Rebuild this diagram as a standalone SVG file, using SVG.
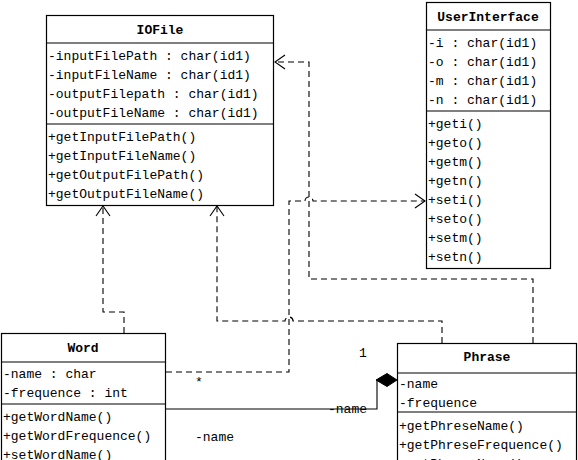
<svg xmlns="http://www.w3.org/2000/svg" width="578" height="460" viewBox="0 0 578 460">
<style>
.box{fill:#fff;stroke:#000;stroke-width:1.2}
.sep{stroke:#000;stroke-width:1.2}
.t{font-family:"Liberation Mono","DejaVu Sans Mono",monospace;font-size:13px;fill:#000}
.h{font-family:"Liberation Mono","DejaVu Sans Mono",monospace;font-size:13px;font-weight:bold;fill:#000;text-anchor:middle}
.dash{fill:none;stroke:#000;stroke-width:1.1;stroke-dasharray:6,4}
.solid{fill:none;stroke:#000;stroke-width:1.1}
.arr{fill:none;stroke:#000;stroke-width:1.1}
</style>
<rect width="578" height="460" fill="#fff"/>
<g id="connectors">
  <!-- Word -> IOFile -->
  <path class="dash" d="M124 333 V312 H103 V206"/>
  <path class="arr" d="M96 216 L103 206 L110 216"/>
  <!-- Phrase -> IOFile (bottom) -->
  <path class="dash" d="M442 343 V321 H293 A4 4 0 0 0 285 321 H217 V206"/>
  <path class="arr" d="M210 216 L217 206 L224 216"/>
  <!-- Phrase -> IOFile (right) -->
  <path class="dash" d="M533 343 V279 H309 V62 H275"/>
  <path class="arr" d="M285 55 L275 62 L285 69"/>
  <!-- Word -> UserInterface -->
  <path class="dash" d="M166 372 H289 V201 H305 A4 4 0 0 1 313 201 H425"/>
  <path class="arr" d="M415 194 L425 201 L415 208"/>
  <!-- Aggregation Word - Phrase -->
  <path class="solid" d="M165 409 H377 V380"/>
  <path d="M397 380 L387 373.5 L376 380 L387 386.5 Z" fill="#000" stroke="#000"/>
  <text class="t" x="363" y="357" text-anchor="middle">1</text>
  <text class="t" x="199" y="386" text-anchor="middle">*</text>
  <text class="t" x="328" y="413">-name</text>
  <text class="t" x="195" y="441">-name</text>
</g>
<g id="IOFile">
  <rect class="box" x="46.5" y="15.5" width="227" height="190"/>
  <line class="sep" x1="46.5" y1="43" x2="273.5" y2="43"/>
  <line class="sep" x1="46.5" y1="124" x2="273.5" y2="124"/>
  <text class="h" x="160" y="33.5">IOFile</text>
  <text class="t" x="48" y="60">-inputFilePath : char(id1)</text>
  <text class="t" x="48" y="79">-inputFileName : char(id1)</text>
  <text class="t" x="48" y="98">-outputFilepath : char(id1)</text>
  <text class="t" x="48" y="117">-outputFileName : char(id1)</text>
  <text class="t" x="48" y="141">+getInputFilePath()</text>
  <text class="t" x="48" y="160">+getInputFileName()</text>
  <text class="t" x="48" y="179">+getOutputFilePath()</text>
  <text class="t" x="48" y="198">+getOutputFileName()</text>
</g>
<g id="UserInterface">
  <rect class="box" x="426.5" y="2.5" width="124" height="266"/>
  <line class="sep" x1="426.5" y1="30" x2="550.5" y2="30"/>
  <line class="sep" x1="426.5" y1="111" x2="550.5" y2="111"/>
  <text class="h" x="488" y="20.5">UserInterface</text>
  <text class="t" x="428" y="46.5">-i : char(id1)</text>
  <text class="t" x="428" y="65.5">-o : char(id1)</text>
  <text class="t" x="428" y="84.5">-m : char(id1)</text>
  <text class="t" x="428" y="103.5">-n : char(id1)</text>
  <text class="t" x="428" y="127.5">+geti()</text>
  <text class="t" x="428" y="146.5">+geto()</text>
  <text class="t" x="428" y="165.5">+getm()</text>
  <text class="t" x="428" y="184.5">+getn()</text>
  <text class="t" x="428" y="203.5">+seti()</text>
  <text class="t" x="428" y="222.5">+seto()</text>
  <text class="t" x="428" y="241.5">+setm()</text>
  <text class="t" x="428" y="261">+setn()</text>
</g>
<g id="Word">
  <rect class="box" x="1.5" y="333.5" width="164" height="140"/>
  <line class="sep" x1="1.5" y1="362" x2="165.5" y2="362"/>
  <line class="sep" x1="1.5" y1="404" x2="165.5" y2="404"/>
  <text class="h" x="83" y="351.5">Word</text>
  <text class="t" x="3" y="377.5">-name : char</text>
  <text class="t" x="3" y="397">-frequence : int</text>
  <text class="t" x="3" y="420.5">+getWordName()</text>
  <text class="t" x="3" y="439.5">+getWordFrequence()</text>
  <text class="t" x="3" y="458.5">+setWordName()</text>
</g>
<g id="Phrase">
  <rect class="box" x="397.5" y="343.5" width="179" height="140"/>
  <line class="sep" x1="397.5" y1="373" x2="576.5" y2="373"/>
  <line class="sep" x1="397.5" y1="412" x2="576.5" y2="412"/>
  <text class="h" x="487" y="360.5">Phrase</text>
  <text class="t" x="399" y="387.5">-name</text>
  <text class="t" x="399" y="406.5">-frequence</text>
  <text class="t" x="399" y="429.5">+getPhreseName()</text>
  <text class="t" x="399" y="448.5">+getPhreseFrequence()</text>
  <text class="t" x="399" y="467.5">+setPhreseName()</text>
</g>
</svg>
